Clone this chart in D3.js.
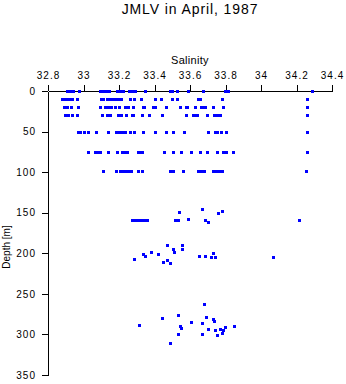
<!DOCTYPE html>
<html>
<head>
<meta charset="utf-8">
<script src="https://cdn.jsdelivr.net/npm/d3@7"></script>
<style>
  html, body { margin: 0; padding: 0; background: #fff; }
  svg { display: block; font-family: "Liberation Sans", Arial, Helvetica, sans-serif; }
</style>
</head>
<body>
<svg id="chart" width="346" height="384"></svg>
<script>
// Bottle salinities at the standard sampling levels (depth in m)
const levelDepths = [0, 10, 20, 30, 50, 75, 99];
const sal0 = [32.907, 32.924, 32.941, 32.973, 33.093, 33.110, 33.127, 33.144, 33.189, 33.206,
  33.223, 33.256, 33.273, 33.290, 33.346, 33.487, 33.499, 33.527, 33.589, 33.673, 33.797, 33.814, 34.287];
const sal10 = [32.879, 32.896, 32.913, 32.924, 32.935, 32.963, 33.099, 33.110, 33.132, 33.149,
  33.166, 33.183, 33.200, 33.211, 33.262, 33.285, 33.324, 33.403, 33.437, 33.499, 33.527, 33.645,
  33.656, 33.780, 34.259];
const sal20 = [32.890, 32.907, 32.930, 32.969, 33.093, 33.121, 33.138, 33.155, 33.177, 33.200,
  33.234, 33.251, 33.279, 33.335, 33.341, 33.392, 33.403, 33.465, 33.544, 33.577, 33.583, 33.628,
  33.662, 33.673, 33.685, 33.730, 33.786, 34.259];
const sal30 = [32.896, 32.913, 32.935, 32.963, 33.104, 33.132, 33.149, 33.194, 33.211, 33.239,
  33.273, 33.279, 33.330, 33.369, 33.442, 33.577, 33.617, 33.628, 33.639, 33.696, 33.735, 33.752,
  33.769, 34.259];
const sal50 = [32.969, 32.980, 33.003, 33.025, 33.070, 33.138, 33.183, 33.200, 33.217, 33.234,
  33.262, 33.285, 33.335, 33.403, 33.465, 33.504, 33.566, 33.701, 33.741, 33.752, 33.775, 33.803, 34.259];
const sal75 = [33.025, 33.065, 33.082, 33.093, 33.138, 33.189, 33.217, 33.234, 33.245, 33.307,
  33.324, 33.330, 33.454, 33.504, 33.549, 33.606, 33.656, 33.696, 33.752, 33.786, 33.803, 33.842, 34.259];
const sal100 = [33.110, 33.183, 33.206, 33.223, 33.239, 33.256, 33.268, 33.307, 33.330, 33.487,
  33.504, 33.561, 33.645, 33.662, 33.679, 33.730, 33.746, 33.763, 33.780, 34.254];

// Deeper bottles, salinity with its own depth
const salNear150 = [33.538, 33.665, 33.759, 33.779, 33.273, 33.290, 33.307, 33.324, 33.341, 33.358,
  33.515, 33.532, 33.590, 33.685, 33.701, 34.214];
const depthNear150 = [149, 145, 150, 148, 159, 159, 159, 159, 159, 159,
  159, 159, 158, 159, 161, 159];
const salNear200 = [33.469, 33.553, 33.506, 33.553, 33.379, 33.512, 33.337, 33.418, 33.346, 33.469,
  33.450, 33.286, 33.487, 33.652, 33.685, 33.717, 33.731, 33.743, 34.069];
const depthNear200 = [190, 190, 195, 195, 199, 198, 201, 201, 203, 208,
  211, 207, 212, 203, 203, 205, 200, 205, 205];
const salNear290 = [33.681, 33.534, 33.690, 33.444, 33.731, 33.737, 33.607, 33.669, 33.314, 33.545,
  33.551, 33.799, 33.848, 33.703, 33.743, 33.767, 33.788, 33.534, 33.669, 33.782, 33.754, 33.489];
const depthNear290 = [262, 276, 278, 280, 281, 284, 285, 286, 288, 290,
  292, 291, 290, 293, 294, 293, 295, 299, 299, 298, 301, 311];

const xTicks = [32.8, 33, 33.2, 33.4, 33.6, 33.8, 34, 34.2, 34.4];
const yTicks = [0, 50, 100, 150, 200, 250, 300, 350];

// Flatten everything into point records
const points = [];
[sal0, sal10, sal20, sal30, sal50, sal75, sal100].forEach((arr, i) => {
  arr.forEach(s => points.push({ s, d: levelDepths[i] }));
});
[[salNear150, depthNear150], [salNear200, depthNear200], [salNear290, depthNear290]].forEach(([sa, da]) => {
  sa.forEach((s, i) => points.push({ s, d: da[i] }));
});

const svg = d3.select("#chart");

const x = d3.scaleLinear().domain([32.8, 34.4]).range([48, 332]);
const y = d3.scaleLinear().domain([0, 350]).range([91, 375]);

// Title and axis titles
svg.append("text")
  .attr("x", 190).attr("y", 13.5)
  .attr("text-anchor", "middle")
  .style("font-size", "14px").style("letter-spacing", "0.9px")
  .text("JMLV in April, 1987");

svg.append("text")
  .attr("x", 190).attr("y", 64)
  .attr("text-anchor", "middle")
  .style("font-size", "11px").style("letter-spacing", "0.3px")
  .text("Salinity");

svg.append("text")
  .attr("transform", "translate(10,247) rotate(-90)")
  .attr("text-anchor", "middle")
  .style("font-size", "10px")
  .text("Depth [m]");

// Axes
const xAxis = svg.append("g")
  .attr("transform", `translate(0,${y(0)})`)
  .call(d3.axisTop(x).tickValues(xTicks).tickFormat(d3.format("")).tickSize(6).tickSizeOuter(0).tickPadding(6));

const yAxis = svg.append("g")
  .attr("transform", `translate(${x(32.8)},0)`)
  .call(d3.axisLeft(y).tickValues(yTicks).tickSize(6).tickSizeOuter(0).tickPadding(6));

[xAxis, yAxis].forEach(g => {
  g.selectAll("path, line").attr("stroke", "#000").attr("stroke-width", 1).attr("shape-rendering", "crispEdges");
  g.selectAll("text")
    .attr("fill", "#000")
    .style("font-family", "'Liberation Sans', Arial, Helvetica, sans-serif")
    .style("font-size", "10px")
    .style("letter-spacing", "1px");
});

// Bottle samples as small filled squares
svg.append("g")
  .attr("fill", "#0000ff")
  .selectAll("rect")
  .data(points)
  .join("rect")
  .attr("x", p => Math.round(x(p.s)) - 1)
  .attr("y", p => Math.round(y(p.d)) - 1)
  .attr("width", 3)
  .attr("height", 3)
  .attr("shape-rendering", "crispEdges");
</script>
</body>
</html>
